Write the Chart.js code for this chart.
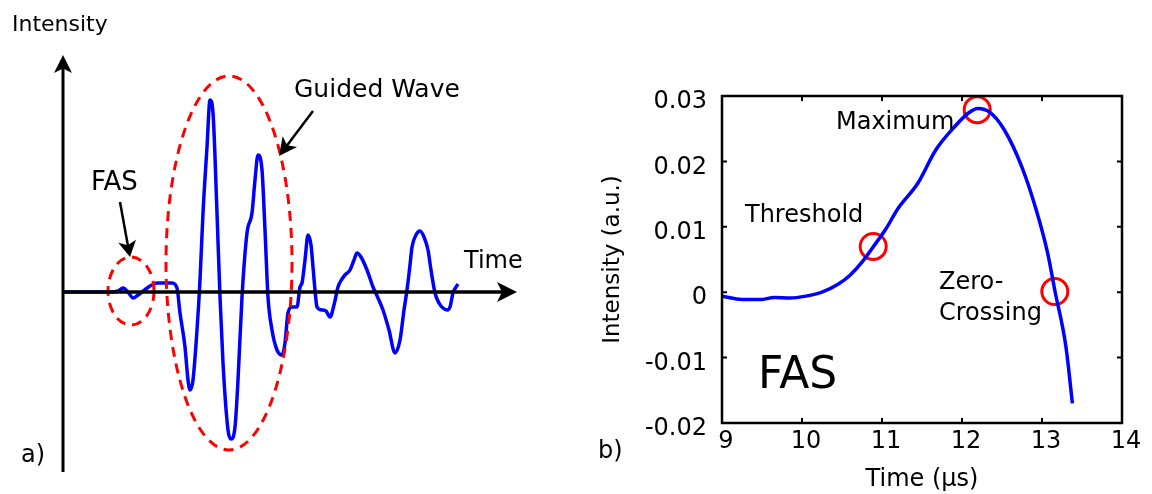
<!DOCTYPE html>
<html><head><meta charset="utf-8">
<script src="https://cdn.jsdelivr.net/npm/chart.js@4.4.0/dist/chart.umd.min.js"></script>
<style>
html,body{margin:0;padding:0;background:#fff;width:1152px;height:494px;overflow:hidden}
canvas{position:absolute;top:0}
#ca{left:0}
#cb{left:580px}
</style></head><body>
<canvas id="ca" width="580" height="494"></canvas>
<canvas id="cb" width="572" height="494"></canvas>
<script>
// ---------- Panel a: schematic received signal (arbitrary units) ----------
const waveTime = [0,46,54,59,64,69,74,78,86,93,101,108,113,116,121,124,126,129,133,136,139,143,146,149,153,156,159,164,167,171,174,178,183,188,191,194,198,201,204,208,213,218,221,224,228,233,236,238,241,244,247,249,251,253,258,262,266,270,274,278,281,286,290,293,297,303,309,314,319,325,331,336,340,343,346,348,352,356,360,364,367,371,375,379,383,386,389,392,394];
const waveIntensity = [0,0,1,4,0,-6,-3,0,6,9,9,9,4,-21,-55,-88,-98,-88,-38,12,79,145,192,179,79,-5,-71,-138,-147,-135,-88,-5,59,79,112,137,122,62,-5,-38,-58,-63,-51,-21,-15,-15,5,9,32,57,47,25,2,-15,-18,-19,-25,-13,5,13,17,22,32,39,35,22,5,-6,-18,-38,-61,-48,-18,2,27,45,57,61,55,42,22,-1,-11,-16,-18,-15,-1,5,8];

// ---------- Panel b: first arriving signal (FAS) ----------
const fasTime = [9.0,9.25,9.5,9.65,9.85,10.05,10.25,10.45,10.6,10.75,10.9,11.05,11.2,11.45,11.67,11.9,12.08,12.2,12.35,12.53,12.75,12.93,13.07,13.16,13.3,13.38];
const fasIntensity = [-0.0006,-0.0011,-0.0011,-0.0008,-0.0009,-0.0006,0.0000,0.0012,0.0026,0.0046,0.0071,0.0097,0.0128,0.0167,0.0217,0.0252,0.0274,0.0281,0.0275,0.0248,0.0191,0.0125,0.0060,0.0003,-0.0084,-0.0170];
const featureNames = ['Threshold','Maximum','Zero-Crossing'];
const featureTime = [10.89,12.19,13.16];
const featureIntensity = [0.0070,0.0279,0.0001];
const xTicksB = [9,10,11,12,13,14];
const xTickLabelsB = ['9','10','11','12','13','14'];
const yTicksB = [-0.02,-0.01,0,0.01,0.02,0.03];
const yTickLabelsB = ['-0.02','-0.01','0','0.01','0.02','0.03'];

Chart.defaults.font.family = "'DejaVu Sans', sans-serif";
Chart.defaults.color = '#000';

function arrow(ctx,x1,y1,x2,y2,len,hw,lw){
  const a=Math.atan2(y2-y1,x2-x1), c=Math.cos(a), s=Math.sin(a);
  ctx.save();
  ctx.strokeStyle='#000'; ctx.fillStyle='#000'; ctx.lineWidth=lw;
  ctx.beginPath(); ctx.moveTo(x1,y1); ctx.lineTo(x2-c*len*0.7,y2-s*len*0.7); ctx.stroke();
  ctx.beginPath(); ctx.moveTo(x2,y2);
  ctx.lineTo(x2-c*len-s*hw, y2-s*len+c*hw);
  ctx.lineTo(x2-c*len*0.75, y2-s*len*0.75);
  ctx.lineTo(x2-c*len+s*hw, y2-s*len-c*hw);
  ctx.closePath(); ctx.fill();
  ctx.restore();
}
function text(ctx,str,x,y,size,color){
  ctx.save();
  ctx.font = size+"px 'DejaVu Sans', sans-serif";
  ctx.fillStyle = color||'#000';
  ctx.textAlign='left'; ctx.textBaseline='alphabetic';
  ctx.fillText(str,x,y);
  ctx.restore();
}

const pluginA = {
  id:'panelA',
  afterDatasetsDraw(chart){
    const ctx=chart.ctx, xs=chart.scales.x, ys=chart.scales.y;
    const X=v=>xs.getPixelForValue(v), Y=v=>ys.getPixelForValue(v);
    // dashed ellipses
    ctx.save();
    ctx.strokeStyle='#ff0000'; ctx.lineWidth=3; ctx.setLineDash([10,7]);
    [[67,1,23,34],[165,29,63,187]].forEach(e=>{
      const cx=X(e[0]), cy=Y(e[1]);
      const rx=X(e[0]+e[2])-cx, ry=cy-Y(e[1]+e[3]);
      ctx.beginPath(); ctx.ellipse(cx,cy,rx,ry,0,0,Math.PI*2); ctx.stroke();
    });
    ctx.restore();
    // axes with arrows
    arrow(ctx,X(-1),Y(-180),X(-1),Y(237),18,9,3);
    arrow(ctx,X(-1),Y(0),X(453),Y(0),20,10,3.5);
    // annotation arrows
    arrow(ctx,X(56),Y(90),X(66),Y(35),16,9,2.5);
    arrow(ctx,X(249),Y(181),X(215),Y(136),18,9,2.5);
    // labels
    text(ctx,'Intensity',X(-52),Y(261),22);
    text(ctx,'Time',X(400),Y(24),24);
    text(ctx,'Guided Wave',X(230),Y(195),25);
    text(ctx,'FAS',X(27),Y(102),26);
    text(ctx,'a)',X(-43),Y(-170),24);
  }
};

new Chart(document.getElementById('ca'),{
  type:'line',
  data:{datasets:[{
    data:waveTime.map((t,i)=>({x:t,y:waveIntensity[i]})),
    borderColor:'#0000ff', borderWidth:3.5, pointRadius:0,
    cubicInterpolationMode:'monotone', fill:false
  }]},
  options:{
    responsive:false, animation:false, events:[],
    layout:{padding:{left:63,right:63,top:55,bottom:22}},
    plugins:{legend:{display:false},tooltip:{enabled:false}},
    scales:{
      x:{type:'linear',min:-1,max:453,display:false},
      y:{type:'linear',min:-180,max:237,display:false}
    }
  },
  plugins:[pluginA]
});

const pluginB = {
  id:'panelB',
  afterDraw(chart){
    const ctx=chart.ctx, a=chart.chartArea, xs=chart.scales.x, ys=chart.scales.y;
    const X=v=>xs.getPixelForValue(v), Y=v=>ys.getPixelForValue(v);
    ctx.save();
    ctx.strokeStyle='#000'; ctx.lineWidth=2.5;
    ctx.strokeRect(a.left,a.top,a.right-a.left,a.bottom-a.top);
    ctx.lineWidth=2;
    ctx.beginPath();
    xTicksB.forEach(v=>{const p=X(v); ctx.moveTo(p,a.bottom); ctx.lineTo(p,a.bottom-5); ctx.moveTo(p,a.top); ctx.lineTo(p,a.top+5);});
    yTicksB.forEach(v=>{const p=Y(v); ctx.moveTo(a.left,p); ctx.lineTo(a.left+5,p); ctx.moveTo(a.right,p); ctx.lineTo(a.right-5,p);});
    ctx.stroke();
    ctx.restore();
    text(ctx,'Threshold',X(9.2875),Y(0.0107),24);
    text(ctx,'Maximum',X(10.425),Y(0.0249),24);
    text(ctx,'Zero-',X(11.7125),Y(0.00046),24);
    text(ctx,'Crossing',X(11.7125),Y(-0.00428),24);
    text(ctx,'FAS',X(9.45),Y(-0.01468),44);
    text(ctx,'b)',X(7.45),Y(-0.0254),24);
  }
};

new Chart(document.getElementById('cb'),{
  type:'line',
  data:{datasets:[
    {data:fasTime.map((t,i)=>({x:t,y:fasIntensity[i]})),
     borderColor:'#0000ff', borderWidth:3.5, pointRadius:0,
     cubicInterpolationMode:'monotone', fill:false},
    {label:'features', data:featureTime.map((t,i)=>({x:t,y:featureIntensity[i]})),
     showLine:false, pointRadius:13, pointBorderWidth:3,
     pointBorderColor:'#ff0000', pointBackgroundColor:'rgba(0,0,0,0)', clip:false}
  ]},
  options:{
    responsive:false, animation:false, events:[],
    layout:{padding:{left:0,right:30,top:96,bottom:0}},
    plugins:{legend:{display:false},tooltip:{enabled:false}},
    scales:{
      x:{type:'linear',min:9,max:14,
         afterBuildTicks:s=>{s.ticks=xTicksB.map(v=>({value:v}));},
         afterFit:s=>{s.height=71;},
         grid:{display:false,drawTicks:false}, border:{display:false},
         ticks:{autoSkip:false,maxRotation:0,padding:4,labelOffset:4,color:'#000',font:{size:24},
                callback:(v,i)=>xTickLabelsB[i]},
         title:{display:true,text:'Time (µs)',color:'#000',font:{size:24},padding:{top:0,bottom:0}}},
      y:{type:'linear',min:-0.02,max:0.03,
         afterBuildTicks:s=>{s.ticks=yTicksB.map(v=>({value:v}));},
         afterFit:s=>{s.width=142;},
         grid:{display:false,drawTicks:false}, border:{display:false},
         ticks:{autoSkip:false,padding:15,labelOffset:6,color:'#000',font:{size:24},
                callback:(v,i)=>yTickLabelsB[i]},
         title:{display:true,text:'Intensity (a.u.)',color:'#000',font:{size:23},padding:{top:19,bottom:0}}}
    }
  },
  plugins:[pluginB]
});
</script>
</body></html>
